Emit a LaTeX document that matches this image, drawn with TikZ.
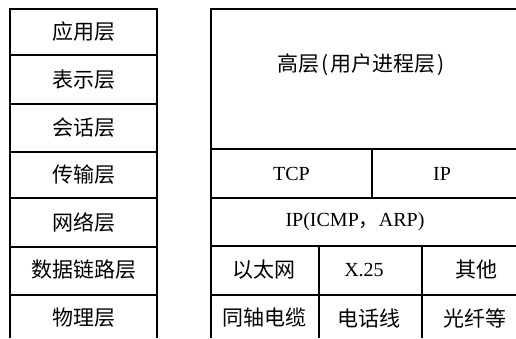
\documentclass[tikz,border=0pt]{standalone}
\usepackage{fontspec}
\setmainfont{Liberation Serif}
\newfontfamily\cjk{Noto Sans CJK SC}
\begin{document}
\begin{tikzpicture}[x=1pt,y=-1pt,
  grid/.style={line width=1.6pt,black},
  lab/.style={font=\fontsize{21}{25}\selectfont\cjk,inner sep=0pt,anchor=center},
  lat/.style={font=\fontsize{20}{24}\selectfont,inner sep=0pt,anchor=center}]
\useasboundingbox (0,0) rectangle (516,338);
% left table
\draw[grid] (10,338) -- (10,9) -- (157,9) -- (157,338);
\foreach \y in {55,104,152,198,247,295} \draw[grid] (10,\y) -- (157,\y);
\node[lab] (l1) at (83.5,32) {应用层};
\node[lab] (l2) at (83.5,80) {表示层};
\node[lab] (l3) at (83.5,128) {会话层};
\node[lab] (l4) at (83.5,175) {传输层};
\node[lab] (l5) at (83.5,222) {网络层};
\node[lab] (l6) at (83.5,270) {数据链路层};
\node[lab] (l7) at (83.5,318) {物理层};
% right table
\draw[grid] (211,338) -- (211,9) -- (516,9);
\foreach \y in {149,198,246,295} \draw[grid] (211,\y) -- (516,\y);
\draw[grid] (372,149) -- (372,198);
\draw[grid] (319,246) -- (319,338);
\draw[grid] (422,246) -- (422,338);
\node[lab] (hi) at (361,65) {高层\hspace{2pt}(\hspace{2pt}用户进程层\hspace{2pt})};
\node[lat] (tcp) at (291.5,174) {TCP};
\node[lat] (ip) at (442,174) {IP};
\node[lat] (ipi) at (355,222) {IP(ICMP{\cjk ，}ARP)};
\node[lab] (eth) at (264,270) {以太网};
\node[lat] (x25) at (364,270) {X.25};
\node[lab] (oth) at (476,270) {其他};
\node[lab] (coax) at (264.5,318) {同轴电缆};
\node[lab] (tel) at (368.5,318) {电话线};
\node[lab] (fib) at (475,318) {光纤等};
\end{tikzpicture}
\end{document}
